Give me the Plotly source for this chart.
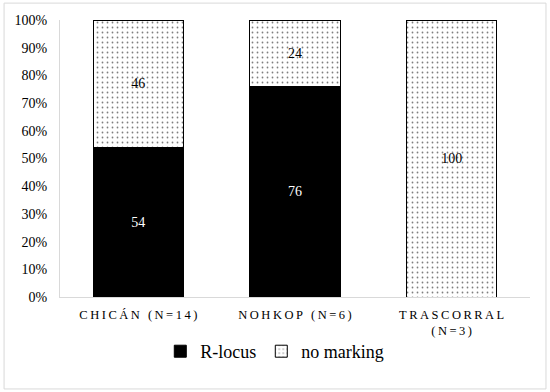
import plotly.graph_objects as go

categories = ["CHICÁN (N=14)", "NOHKOP (N=6)", "TRASCORRAL<br>(N=3)"]
r_locus = [54, 76, 0]
no_marking = [46, 24, 100]
y_ticks = [0, 10, 20, 30, 40, 50, 60, 70, 80, 90, 100]

FONT = "Liberation Serif, Times New Roman, serif"


def spaced(label):
    """Imitate the letter spacing of the category labels."""
    parts = label.split("<br>")
    return "<br>".join("\u2009".join(p) for p in parts)


x_labels = [spaced(c) for c in categories]

fig = go.Figure()
fig.add_trace(go.Bar(
    x=x_labels, y=r_locus, name="R-locus",
    marker=dict(color="black", line=dict(color="black", width=1)),
    text=[str(v) if v else "" for v in r_locus],
    textposition="inside", insidetextanchor="middle",
    textfont=dict(color="white", size=14, family=FONT),
))
fig.add_trace(go.Bar(
    x=x_labels, y=no_marking, name="no marking",
    marker=dict(
        color="white",
        line=dict(color="black", width=1),
        pattern=dict(shape=".", fgcolor="black", bgcolor="white", size=5, solidity=0.1),
    ),
    text=[str(v) if v else "" for v in no_marking],
    textposition="inside", insidetextanchor="middle",
    textfont=dict(color="black", size=14, family=FONT),
))

fig.update_layout(
    barmode="stack",
    bargap=0.425,
    width=550, height=392,
    margin=dict(l=60, r=20, t=20, b=95, autoexpand=False),
    paper_bgcolor="white",
    plot_bgcolor="white",
    font=dict(family=FONT, size=14, color="black"),
    showlegend=True,
    legend=dict(
        orientation="h", x=0.457, xanchor="center", y=-0.13, yanchor="top",
        font=dict(size=18, family=FONT),
        traceorder="normal", itemwidth=30,
    ),
    xaxis=dict(
        showline=True, linecolor="#d9d9d9", linewidth=1, automargin=False,
        ticks="", tickfont=dict(size=12.5, family=FONT), ticklabelstandoff=6,
    ),
    yaxis=dict(
        range=[0, 100], tickvals=y_ticks,
        ticktext=[f"{v}%" for v in y_ticks],
        showgrid=False, showline=True, linecolor="#d9d9d9", linewidth=1,
        ticks="", tickfont=dict(size=14, family=FONT), automargin=False,
        zeroline=False, ticklabelstandoff=9,
    ),
    shapes=[dict(
        type="rect", xref="paper", yref="paper",
        x0=-0.119, x1=1.034, y0=-0.332, y1=1.061,
        line=dict(color="#d9d9d9", width=1),
    )],
)

fig.write_html(
    "out.html",
    config={"displayModeBar": False},
    post_script="document.body.style.margin = '0';",
)
